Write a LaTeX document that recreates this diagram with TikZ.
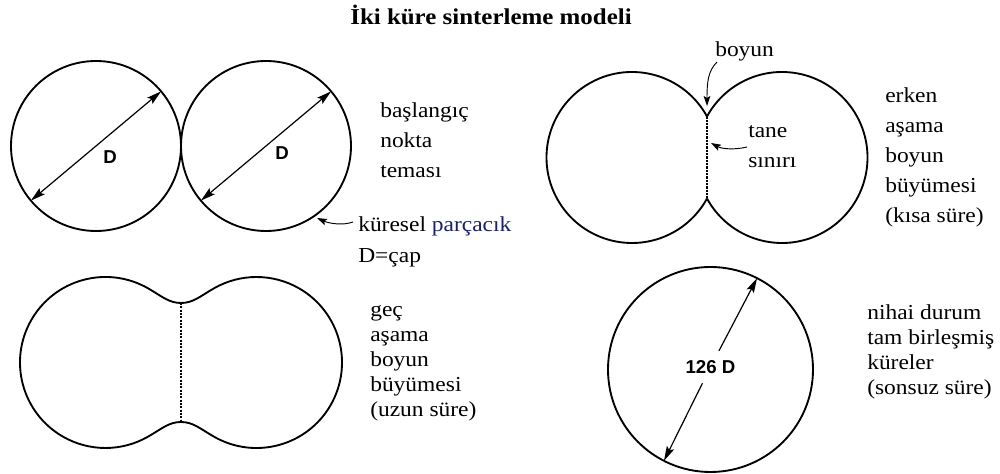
\documentclass[tikz,border=0pt]{standalone}
\usepackage{fontspec}
\setmainfont{Liberation Serif}[FakeStretch=1.1]
\newfontfamily\lsans{Liberation Sans}
\usetikzlibrary{arrows.meta}
\definecolor{navy}{RGB}{25,35,100}
\begin{document}
\begin{tikzpicture}[x=0.75pt,y=0.75pt,
  outline/.style={line width=1.4pt},
  bighead/.style={line width=0.9pt},
  dimarrow/.style={bighead,arrows={Stealth[length=11pt,width=6pt,inset=2pt]-Stealth[length=11pt,width=6pt,inset=2pt]}},
  onearrow/.style={bighead,arrows={-Stealth[length=11pt,width=6pt,inset=2pt]}},
  callout/.style={line width=0.7pt,arrows={-Stealth[length=7.5pt,width=5pt,inset=1.5pt]}},
  gbline/.style={line width=1.1pt,dash pattern=on 1.6pt off 0.9pt},
  txt/.style={anchor=base west,inner sep=0pt,font=\fontsize{16}{19}\selectfont},
  dlab/.style={font=\lsans\bfseries\fontsize{14}{16}\selectfont,inner sep=1pt}]
\useasboundingbox (0,0) rectangle (1000,474);
\fill[white] (0,0) rectangle (1000,474);

% title
\node[font=\bfseries\fontsize{17}{20}\selectfont] (title) at (491,459) {İki küre sinterleme modeli};

% ---------- top left: two touching spheres ----------
\draw[outline] (96,328) circle[radius=85];
\draw[outline] (266,328) circle[radius=85];
\coordinate (d1a) at ([shift={(220:85)}]96,328);
\coordinate (d1b) at ([shift={(40:85)}]96,328);
\coordinate (d2a) at ([shift={(220:85)}]266,328);
\coordinate (d2b) at ([shift={(40:85)}]266,328);
\draw[dimarrow] (d1a) -- (d1b);
\draw[dimarrow] (d2a) -- (d2b);
\node[dlab] (D1) at (110,317) {D};
\node[dlab] (D2) at (282,321) {D};

\foreach \t [count=\i] in {başlangıç,nokta,teması}
  \node[txt] (tl\i) at (380,386-30*\i) {\t};
\node[txt] (kur) at (358,242) {küresel {\color{navy}parçacık}};
\node[txt] (cap) at (358,211) {D=çap};
\coordinate (kurTail) at (353,252);
\coordinate (kurHead) at (317,256);
\draw[callout] (kurTail) .. controls (342,248) and (328,251) .. (kurHead);

% ---------- top right: early neck growth ----------
\draw[outline] ([shift={(28.7:85.5)}]632,316.5) arc[start angle=28.7,end angle=331.3,radius=85.5];
\draw[outline] ([shift={(208.7:85.5)}]782,316.5) arc[start angle=208.7,end angle=511.3,radius=85.5];
\coordinate (n1top) at (707,357.5);
\coordinate (n1bot) at (707,275.5);
\draw[gbline] (n1top) -- (n1bot);

\node[txt] (boyunlab) at (715,417) {boyun};
\coordinate (boyTail) at (717,412);
\coordinate (boyHead) at (707,368);
\draw[callout] (boyTail) .. controls (708,403) and (707,392) .. (boyHead);

\node[txt] (tane) at (748,336) {tane};
\node[txt] (sinir) at (748,306) {sınırı};
\coordinate (taneTail) at (747,327);
\coordinate (taneHead) at (711,331);
\draw[callout] (taneTail) .. controls (735,324) and (722,325) .. (taneHead);

\foreach \t [count=\i] in {erken,aşama,boyun,büyümesi,{(kısa süre)}}
  \node[txt] (tr\i) at (885,401-30*\i) {\t};

% ---------- bottom left: late neck growth ----------
\draw[outline] (148.25,185.55)
  arc[start angle=60,end angle=300,radius=85.5]
  .. controls (162.1,45.45) and (169,52) .. (181,52)
  .. controls (193,52) and (199.9,45.45) .. (213.75,37.45)
  arc[start angle=240,end angle=480,radius=85.5]
  .. controls (199.9,177.55) and (193,171) .. (181,171)
  .. controls (169,171) and (162.1,177.55) .. cycle;
\coordinate (n2top) at (181,171);
\coordinate (n2bot) at (181,52);
\draw[gbline] (n2top) -- (n2bot);

\foreach \t [count=\i] in {geç,aşama,boyun,büyümesi,{(uzun süre)}}
  \node[txt] (bl\i) at (370,182-25*\i) {\t};

% ---------- bottom right: final state ----------
\draw[outline] (710.5,104.5) circle[radius=102.5];
\node[dlab,fill=white,inner sep=7pt] (big) at (710.5,107) {126 D};
\coordinate (bigA) at ([shift={(243:102.5)}]710.5,104.5);
\coordinate (bigB) at ([shift={(63:102.5)}]710.5,104.5);
\draw[onearrow] (big) -- (bigA);
\draw[onearrow] (big) -- (bigB);

\foreach \t [count=\i] in {nihai durum,tam birleşmiş,küreler,{(sonsuz süre)}}
  \node[txt] (br\i) at (867,179-25*\i) {\t};
\end{tikzpicture}
\end{document}
